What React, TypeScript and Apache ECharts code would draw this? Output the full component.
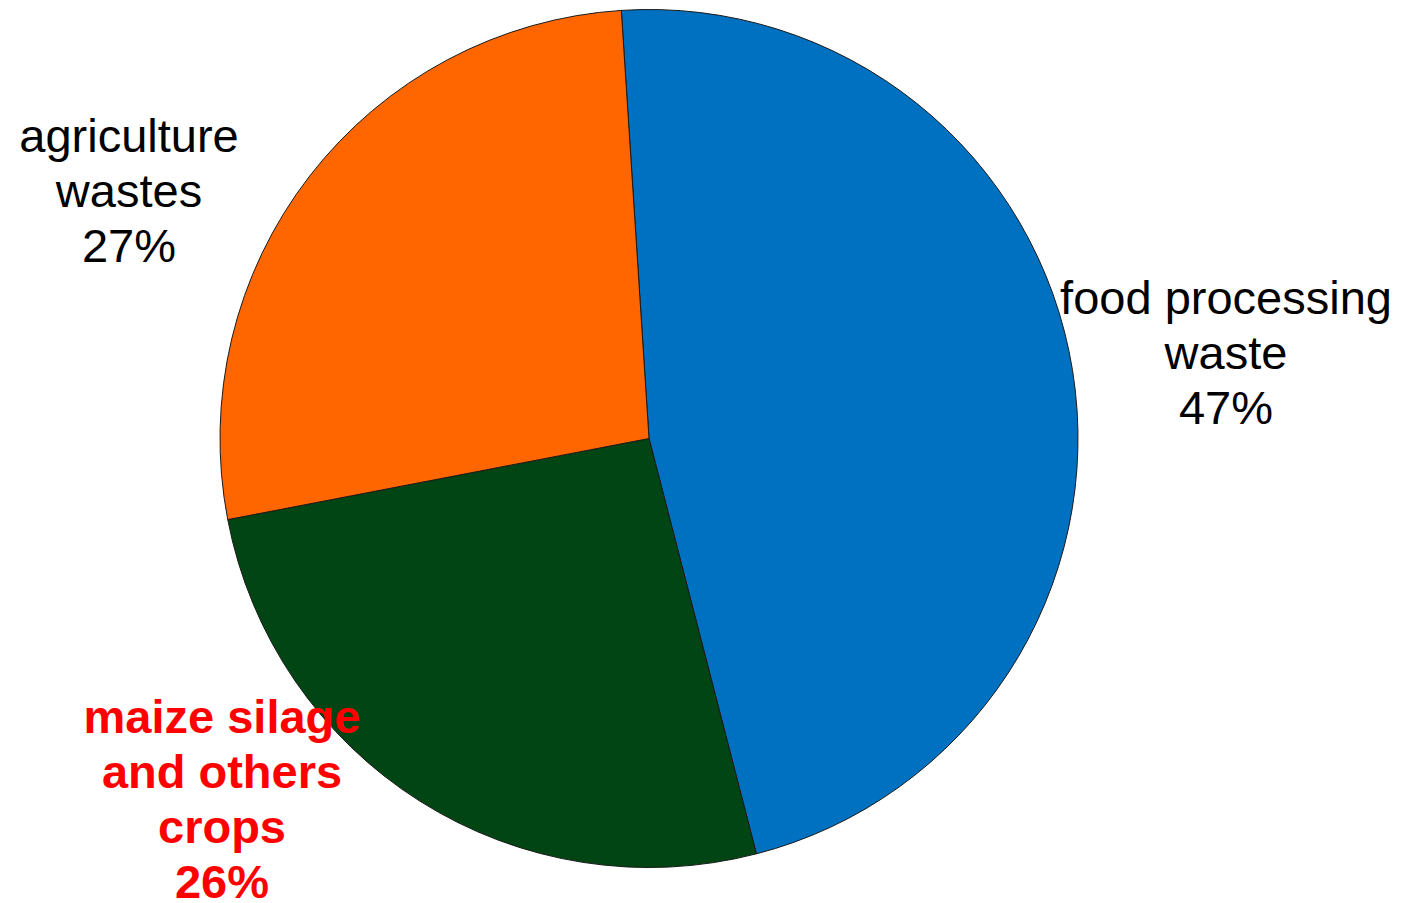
import React, { useEffect, useRef } from "react";
import * as echarts from "echarts";

const categories = ["food processing\nwaste", "maize silage\nand others\ncrops", "agriculture\nwastes"];
const values = [47, 26, 27];
const colors = ["#0070C0", "#004513", "#FF6600"];
const labelColors = ["#000000", "#FF0000", "#000000"];
const labelBold = [false, true, false];
const labelPos = [
  [1226, 352],
  [222, 799],
  [129, 190],
];

export default function App() {
  const ref = useRef<HTMLDivElement>(null);
  useEffect(() => {
    if (!ref.current) return;
    const chart = echarts.init(ref.current, undefined, { renderer: "svg" });
    chart.setOption({
      animation: false,
      backgroundColor: "#ffffff",
      series: [
        {
          type: "pie",
          center: [649, 438.5],
          radius: [0, 429],
          startAngle: 93.7,
          clockwise: true,
          avoidLabelOverlap: false,
          labelLine: { show: false },
          itemStyle: { borderColor: "#1a1a1a", borderWidth: 1 },
          emphasis: { disabled: true },
          data: categories.map((name, i) => ({
            name,
            value: values[i],
            itemStyle: { color: colors[i] },
            label: {
              show: true,
              position: "outside",
              formatter: () => `${name}\n${values[i]}%`,
              color: labelColors[i],
              fontWeight: labelBold[i] ? "bold" : "normal",
              fontFamily: "Liberation Sans, Arial, sans-serif",
              fontSize: 47,
              lineHeight: 55,
              align: "center",
            },
          })),
          labelLayout: (params: any) => ({
            x: labelPos[params.dataIndex][0],
            y: labelPos[params.dataIndex][1],
            align: "center",
            verticalAlign: "middle",
          }),
        },
      ],
    });
    return () => chart.dispose();
  }, []);
  return (
    <div
      ref={ref}
      style={{ position: "fixed", left: 0, top: 0, width: 1401, height: 903 }}
    />
  );
}
